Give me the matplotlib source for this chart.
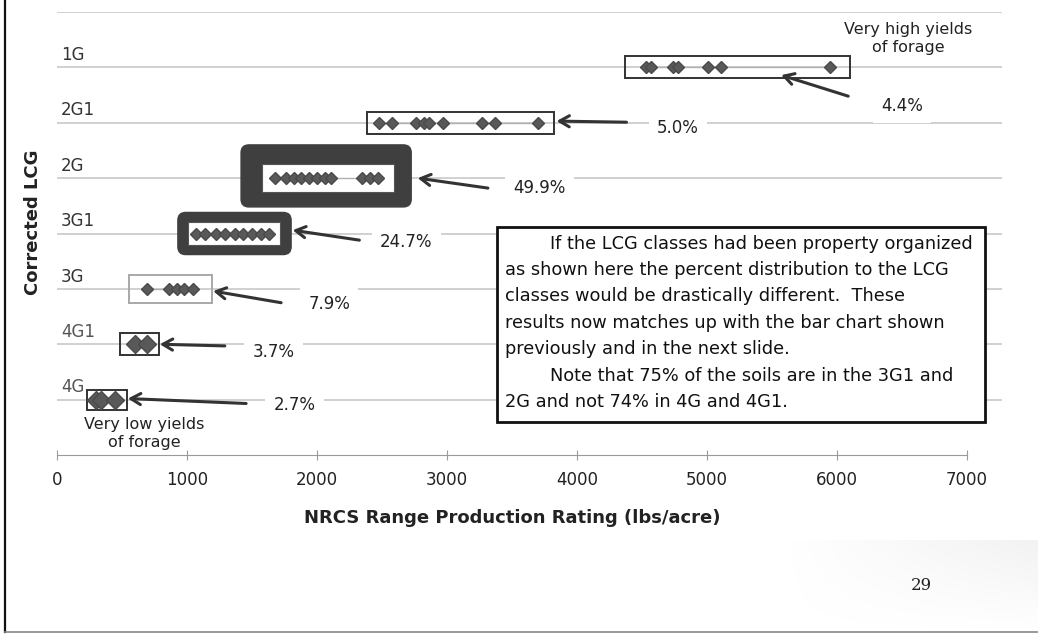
import numpy as np
import matplotlib
matplotlib.use("Agg")
import matplotlib.pyplot as plt
from matplotlib.patches import Rectangle, FancyBboxPatch
from matplotlib.lines import Line2D

# classes, bottom to top
classes = ["4G", "4G1", "3G", "3G1", "2G", "2G1", "1G"]
percents = ["2.7%", "3.7%", "7.9%", "24.7%", "49.9%", "5.0%", "4.4%"]

# production ratings (lbs/acre) of the soils in each class
r_4G = [300, 340, 450]
r_4G1 = [600, 690]
r_3G = [690, 860, 920, 980, 1050]
r_3G1 = [1070, 1140, 1220, 1290, 1370, 1430, 1500, 1570, 1630]
r_2G = [1680, 1760, 1820, 1880, 1940, 2000, 2060, 2110, 2350, 2410, 2470]
r_2G1 = [2480, 2580, 2760, 2820, 2860, 2970, 3270, 3370, 3700]
r_1G = [4530, 4570, 4740, 4780, 5010, 5110, 5950]
ratings = [r_4G, r_4G1, r_3G, r_3G1, r_2G, r_2G1, r_1G]

xticks = [0, 1000, 2000, 3000, 4000, 5000, 6000, 7000]

note = ("        If the LCG classes had been property organized\n"
        "as shown here the percent distribution to the LCG\n"
        "classes would be drastically different.  These\n"
        "results now matches up with the bar chart shown\n"
        "previously and in the next slide.\n"
        "        Note that 75% of the soils are in the 3G1 and\n"
        "2G and not 74% in 4G and 4G1.")

W, H = 1038, 635
fig = plt.figure(figsize=(W / 100, H / 100), dpi=100)
ax = fig.add_axes([57 / W, 1 - 455 / H, 945 / W, 443 / H])
ax.set_xlim(0, 7270)
ax.set_ylim(0, 8)

# horizontal row lines
for y in range(1, 9):
    ax.axhline(y, color="#c4c4c4", lw=1.1, zorder=0)

# outline boxes around each class: (x0, x1, half height, style)
boxes = {
    "1G": (4370, 6100, 0.2, "plain"),
    "2G1": (2384, 3827, 0.2, "plain"),
    "2G": (1577, 2592, 0.25, "frame"),
    "3G1": (1005, 1714, 0.2, "frame"),
    "3G": (557, 1192, 0.25, "light"),
    "4G1": (483, 781, 0.2, "plain"),
    "4G": (234, 540, 0.18, "plain"),
}
frames = {"2G": (1416, 2725, 4.48, 5.60), "3G1": (930, 1801, 3.62, 4.38)}
aspect = (1 / 55.4) / (7270 / 945)

for i, c in enumerate(classes):
    y = i + 1
    x0, x1, hh, style = boxes[c]
    if style == "frame":
        fx0, fx1, fy0, fy1 = frames[c]
        ax.add_patch(FancyBboxPatch((fx0, fy0), fx1 - fx0, fy1 - fy0,
                                    boxstyle="round,pad=0,rounding_size=60",
                                    mutation_aspect=aspect, fc="#3f3f3f",
                                    ec="#3f3f3f", lw=1, zorder=1))
        ax.add_patch(Rectangle((x0, y - hh), x1 - x0, 2 * hh, fc="white",
                               ec="#555555", lw=0.8, zorder=1.5))
    else:
        ec = "#a8a8a8" if style == "light" else "#333333"
        ax.add_patch(Rectangle((x0, y - hh), x1 - x0, 2 * hh, fill=False,
                               ec=ec, lw=1.4, zorder=2))
    big = c in ("4G", "4G1")
    ax.plot(ratings[i], [y] * len(ratings[i]), "-", color="#b0b0b0",
            lw=1, zorder=2)
    ax.plot(ratings[i], [y] * len(ratings[i]), "D", color="#595959",
            mec="#4a4a4a", ms=9.5 if big else 6, zorder=3)

# class names sit above the row lines
for i, c in enumerate(classes):
    col = "#555555" if c in ("4G", "4G1") else "#333333"
    ax.text(30, i + 1 + 0.06, c, fontsize=12, color=col, ha="left",
            va="bottom", zorder=4)

# arrows pointing to each box, and the share of soils in each class
arrows = {
    "1G": ((6087, 6.48), (5571, 6.86)),
    "2G1": ((4381, 6.01), (3843, 6.03)),
    "2G": ((3315, 4.82), (2775, 5.0)),
    "3G1": ((2326, 3.88), (1813, 4.06)),
    "3G": ((1724, 2.75), (1201, 2.96)),
    "4G1": ((1291, 1.97), (791, 2.0)),
    "4G": ((1455, 0.93), (545, 1.02)),
}
label_pos = {
    "1G": (6500, 6.30), "2G1": (4778, 5.90), "2G": (3709, 4.82),
    "3G1": (2688, 3.85), "3G": (2094, 2.73), "4G1": (1664, 1.86),
    "4G": (1828, 0.91),
}
for i, c in enumerate(classes):
    tail, head = arrows[c]
    ax.annotate("", xy=head, xytext=tail, zorder=5,
                arrowprops=dict(arrowstyle="->,head_length=0.7,head_width=0.4",
                                color="#333333", lw=2.2, shrinkA=0, shrinkB=0))
    lx, ly = label_pos[c]
    ax.text(lx, ly, percents[i], fontsize=12, color="#222222", ha="center",
            va="center", zorder=4,
            bbox=dict(fc="white", ec="none", pad=6))

ax.text(6550, 7.52, "Very high yields\nof forage", fontsize=11.5,
        color="#222222", ha="center", va="center", linespacing=1.3, zorder=4)
ax.text(671, 0.38, "Very low yields\nof forage", fontsize=11.5,
        color="#222222", ha="center", va="center", linespacing=1.25, zorder=4)

# explanation box
ax.add_patch(Rectangle((3385, 0.59), 7139 - 3385, 4.12 - 0.59, fc="white",
                       ec="#111111", lw=2, zorder=6, clip_on=False))
ax.text(3446, 3.98, note, fontsize=12.8, color="#111111", ha="left",
        va="top", linespacing=1.6, zorder=7)

# axis styling
for s in ("top", "right", "left"):
    ax.spines[s].set_visible(False)
ax.spines["bottom"].set_color("#9a9a9a")
ax.spines["bottom"].set_bounds(0, 7000)
ax.set_xticks(xticks)
ax.set_xticklabels([str(t) for t in xticks])
ax.tick_params(axis="x", direction="inout", length=7, color="#9a9a9a",
               labelsize=12, labelcolor="#222222", pad=8)
ax.set_yticks([])

fig.text(512 / W, 1 - 518 / H, "NRCS Range Production Rating (lbs/acre)",
         fontsize=13, fontweight="bold", color="#222222", ha="center",
         va="center")
fig.text(33 / W, 1 - 222 / H, "Corrected LCG", fontsize=13,
         fontweight="bold", color="#222222", ha="center", va="center",
         rotation=90)

# slide footer: faint shading, page number and border
grad = np.linspace(0, 1, 256)[None, :] * np.linspace(0, 1, 64)[:, None]
gax = fig.add_axes([780 / W, 3 / H, 258 / W, 92 / H], zorder=-1)
gax.imshow(grad[::-1], cmap="Greys", vmin=0, vmax=9, aspect="auto")
gax.axis("off")
fig.text(921 / W, 1 - 585 / H, "29", fontsize=12, family="DejaVu Serif",
         color="#222222", ha="center", va="center")
fig.add_artist(Line2D([5 / W, 5 / W], [3 / H, 1], color="#111111", lw=1.6))
fig.add_artist(Line2D([5 / W, 1], [3 / H, 3 / H], color="#888888", lw=1.2))

fig.savefig("out.png", dpi=100)
